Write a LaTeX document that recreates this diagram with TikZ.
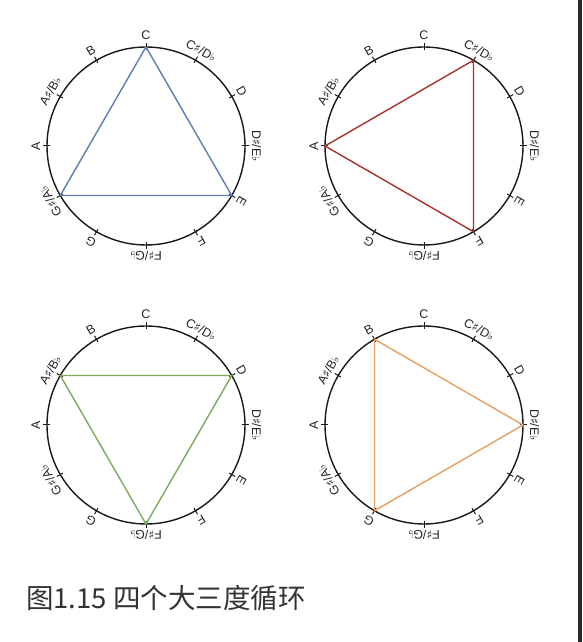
\documentclass[tikz,border=0pt]{standalone}
\usepackage{fontspec}
\setmainfont{Liberation Sans}
\newfontfamily\symf{DejaVu Sans}
\newfontfamily\cjk{Noto Sans CJK SC}
\newcommand{\shp}{{\symf\fontsize{12}{14}\selectfont ♯}}
\newcommand{\flt}{{\symf\fontsize{11}{13}\selectfont ♭}}
\definecolor{tblue}{HTML}{5A7FB5}
\definecolor{tred}{HTML}{A8322E}
\definecolor{tgreen}{HTML}{7DAB5C}
\definecolor{torange}{HTML}{E8A060}
\tikzset{
  circ/.style={draw=black!90, line width=1.4pt},
  tickmark/.style={draw=black!90, line width=1pt},
  lbl/.style={anchor=base, inner sep=0pt, text=black!85, font=\fontsize{12.5}{14}\selectfont},
  tri/.style={line width=1.4pt, line join=miter},
}
\newcommand{\mywheel}[3]{%
  \begin{scope}[shift={(#2,#3)}]
    \coordinate (#1) at (0,0);
    \draw[circ] (0,0) circle (99);
    \foreach \k/\lab in {0/C,1/{C\shp/D\flt},2/D,3/{D\shp/E\flt},4/E,5/F,6/{F\shp/G\flt},7/G,8/{G\shp/A\flt},9/A,10/{A\shp/B\flt},11/B} {
      \draw[tickmark] (90-30*\k:96) -- (90-30*\k:103);
      \coordinate (#1-\k) at (90-30*\k:99);
      \node[lbl, rotate=-30*\k] (#1-l\k) at (90-30*\k:106) {\lab};
    }
  \end{scope}%
}
\begin{document}
\begin{tikzpicture}[x=1pt,y=1pt]
\useasboundingbox (0,0) rectangle (582,642);
\fill[white] (0,0) rectangle (582,642);
\fill[black!84] (578,0) rectangle (582,642);

\mywheel{TL}{146}{496}
\mywheel{TR}{424}{496}
\mywheel{BL}{146}{217}
\mywheel{BR}{424}{217}

\draw[tri, tblue] (TL-0) -- (TL-4) -- (TL-8) -- cycle;
\draw[tri, tred] (TR-1) -- (TR-5) -- (TR-9) -- cycle;
\draw[tri, tgreen] (BL-2) -- (BL-6) -- (BL-10) -- cycle;
\draw[tri, torange] (BR-3) -- (BR-7) -- (BR-11) -- cycle;

\node[anchor=base west, inner sep=0pt, text=black!80, font=\cjk\fontsize{27.5}{32}\selectfont] (cap) at (26,33) {图1.15 四个大三度循环};
\end{tikzpicture}
\end{document}
